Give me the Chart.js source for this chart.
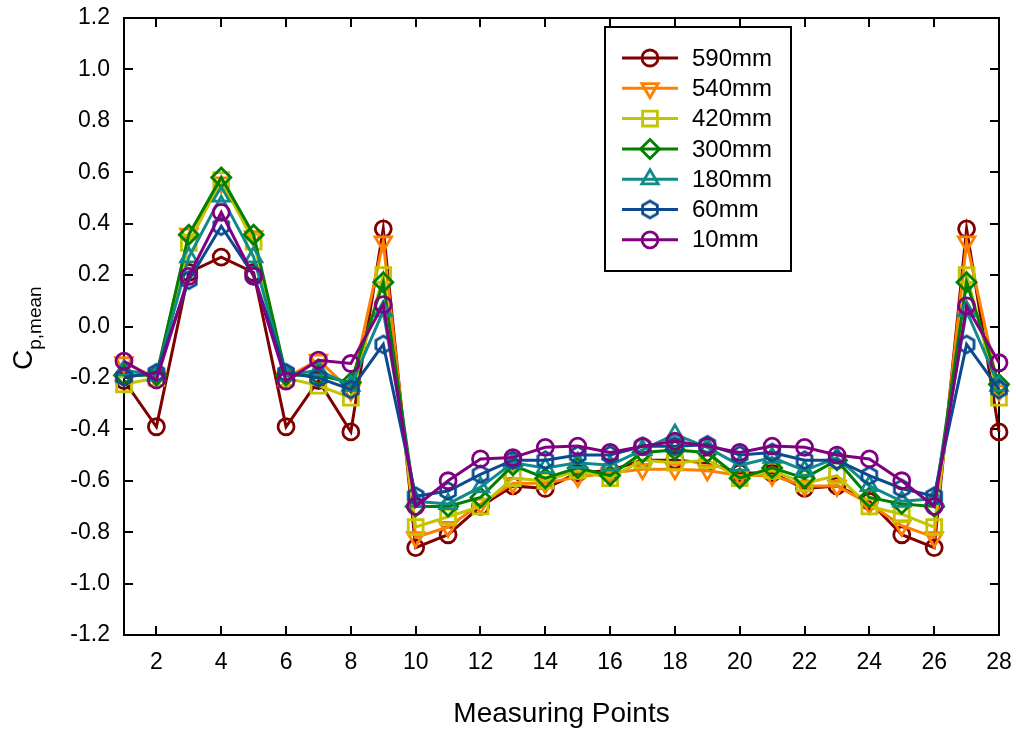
<!DOCTYPE html>
<html>
<head>
<meta charset="utf-8">
<title>Cp,mean</title>
<script src="https://cdn.jsdelivr.net/npm/chart.js@4.4.1/dist/chart.umd.min.js"></script>
<style>
  html, body { margin: 0; padding: 0; background: #fff; }
  #wrap { width: 1016px; height: 733px; position: relative; }
</style>
</head>
<body>
<div id="wrap"><canvas id="cp_chart"></canvas></div>
<script>
// measuring points along the model
const measuringPoints = [1, 2, 3, 4, 5, 6, 7, 8, 9, 10, 11, 12, 13, 14, 15, 16, 17, 18, 19, 20, 21, 22, 23, 24, 25, 26, 27, 28];

const seriesNames = ['590mm', '540mm', '420mm', '300mm', '180mm', '60mm', '10mm'];

const cp590 = [-0.21, -0.39, 0.21, 0.27, 0.21, -0.39, -0.21, -0.41, 0.38, -0.86, -0.81, -0.70, -0.62, -0.63, -0.57, -0.56, -0.52, -0.52, -0.53, -0.57, -0.57, -0.63, -0.62, -0.68, -0.81, -0.86, 0.38, -0.41];
const cp540 = [-0.14, -0.20, 0.36, 0.56, 0.35, -0.20, -0.13, -0.25, 0.33, -0.82, -0.78, -0.69, -0.61, -0.61, -0.585, -0.57, -0.555, -0.555, -0.56, -0.58, -0.58, -0.62, -0.62, -0.69, -0.775, -0.82, 0.33, -0.25];
const cp420 = [-0.225, -0.20, 0.325, 0.57, 0.33, -0.20, -0.23, -0.277, 0.20, -0.78, -0.74, -0.70, -0.59, -0.60, -0.56, -0.59, -0.52, -0.53, -0.52, -0.59, -0.56, -0.61, -0.58, -0.70, -0.73, -0.78, 0.20, -0.277];
const cp300 = [-0.19, -0.19, 0.357, 0.58, 0.357, -0.19, -0.19, -0.218, 0.172, -0.70, -0.70, -0.665, -0.54, -0.59, -0.55, -0.58, -0.49, -0.48, -0.49, -0.59, -0.55, -0.59, -0.52, -0.665, -0.69, -0.70, 0.172, -0.225];
const cp180 = [-0.17, -0.19, 0.27, 0.506, 0.27, -0.19, -0.17, -0.23, 0.06, -0.68, -0.69, -0.625, -0.53, -0.55, -0.53, -0.54, -0.48, -0.42, -0.47, -0.54, -0.51, -0.56, -0.51, -0.62, -0.68, -0.67, 0.06, -0.23];
const cp60 = [-0.197, -0.18, 0.18, 0.39, 0.20, -0.18, -0.20, -0.245, -0.07, -0.66, -0.64, -0.575, -0.52, -0.52, -0.50, -0.50, -0.466, -0.466, -0.46, -0.50, -0.49, -0.52, -0.52, -0.58, -0.63, -0.66, -0.07, -0.245];
const cp10 = [-0.135, -0.208, 0.195, 0.444, 0.195, -0.212, -0.131, -0.144, 0.085, -0.70, -0.60, -0.515, -0.51, -0.47, -0.465, -0.49, -0.466, -0.446, -0.466, -0.49, -0.465, -0.47, -0.50, -0.515, -0.60, -0.70, 0.08, -0.141];

const yTickValues = [-1.2, -1.0, -0.8, -0.6, -0.4, -0.2, 0.0, 0.2, 0.4, 0.6, 0.8, 1.0, 1.2];
const xTickValues = [2, 4, 6, 8, 10, 12, 14, 16, 18, 20, 22, 24, 26, 28];

const FONT = '"Liberation Sans", Arial, Helvetica, sans-serif';

// hexagon marker, vertex up, drawn on its own little canvas
function hexagonMarker(color, r, lw) {
  const size = Math.ceil(2 * r + lw + 2);
  const c = document.createElement('canvas');
  c.width = size; c.height = size;
  const g = c.getContext('2d');
  g.strokeStyle = color;
  g.lineWidth = lw;
  g.beginPath();
  for (let k = 0; k < 6; k++) {
    const a = -Math.PI / 2 + k * Math.PI / 3;
    const px = size / 2 + r * Math.cos(a);
    const py = size / 2 + r * Math.sin(a);
    if (k === 0) g.moveTo(px, py); else g.lineTo(px, py);
  }
  g.closePath();
  g.stroke();
  return c;
}

const MARK_W = 2.8;
const styles = [
  { color: '#800000', pointStyle: 'circle', rotation: 0, radius: 8 },
  { color: '#ff7f00', pointStyle: 'triangle', rotation: 180, radius: 9.5 },
  { color: '#c4c400', pointStyle: 'rect', rotation: 0, radius: 10.5 },
  { color: '#008000', pointStyle: 'rectRot', rotation: 0, radius: 9.5 },
  { color: '#118a8a', pointStyle: 'triangle', rotation: 0, radius: 9.5 },
  { color: '#0b4a8e', pointStyle: null, rotation: 0, radius: 8.5 },
  { color: '#800080', pointStyle: 'circle', rotation: 0, radius: 8 }
];
styles[5].pointStyle = hexagonMarker(styles[5].color, styles[5].radius, MARK_W);

const allSeries = [cp590, cp540, cp420, cp300, cp180, cp60, cp10];

const datasets = allSeries.map((vals, i) => ({
  label: seriesNames[i],
  data: measuringPoints.map((p, k) => ({ x: p, y: vals[k] })),
  borderColor: styles[i].color,
  backgroundColor: 'transparent',
  borderWidth: 3,
  tension: 0,
  pointStyle: styles[i].pointStyle,
  rotation: styles[i].rotation,
  pointRadius: styles[i].radius,
  pointHoverRadius: styles[i].radius,
  pointBorderColor: styles[i].color,
  pointBackgroundColor: 'transparent',
  pointBorderWidth: MARK_W,
  clip: false,
  order: allSeries.length - 1 - i   // 10mm ends up on top
}));

// box round the plot with inward ticks on all four sides
const frameTicks = {
  id: 'frameTicks',
  beforeDatasetsDraw(chart) {
    const { ctx, chartArea: a, scales } = chart;
    const len = 9;
    ctx.save();
    ctx.strokeStyle = '#000';
    ctx.lineWidth = 2;
    ctx.beginPath();
    yTickValues.forEach(v => {
      const y = Math.round(scales.y.getPixelForValue(v));
      ctx.moveTo(a.left, y); ctx.lineTo(a.left + len, y);
      ctx.moveTo(a.right, y); ctx.lineTo(a.right - len, y);
    });
    xTickValues.forEach(v => {
      const x = Math.round(scales.x.getPixelForValue(v));
      ctx.moveTo(x, a.bottom); ctx.lineTo(x, a.bottom - len);
      ctx.moveTo(x, a.top); ctx.lineTo(x, a.top + len);
    });
    ctx.stroke();
    ctx.strokeRect(a.left, a.top, a.right - a.left, a.bottom - a.top);
    ctx.restore();
  }
};

function drawMarker(ctx, st, x, y) {
  ctx.save();
  ctx.strokeStyle = st.color;
  ctx.lineWidth = MARK_W;
  const r = st.radius;
  if (st.pointStyle instanceof HTMLCanvasElement) {
    ctx.drawImage(st.pointStyle, x - st.pointStyle.width / 2, y - st.pointStyle.height / 2);
    ctx.restore();
    return;
  }
  ctx.beginPath();
  if (st.pointStyle === 'circle') {
    ctx.arc(x, y, r, 0, Math.PI * 2);
  } else if (st.pointStyle === 'triangle') {
    let rad = st.rotation * Math.PI / 180;
    for (let k = 0; k < 3; k++) {
      const px = x + Math.sin(rad) * r, py = y - Math.cos(rad) * r;
      if (k === 0) ctx.moveTo(px, py); else ctx.lineTo(px, py);
      rad += Math.PI * 2 / 3;
    }
    ctx.closePath();
  } else if (st.pointStyle === 'rect') {
    const s = Math.SQRT1_2 * r;
    ctx.rect(x - s, y - s, 2 * s, 2 * s);
  } else if (st.pointStyle === 'rectRot') {
    ctx.moveTo(x - r, y); ctx.lineTo(x, y + r); ctx.lineTo(x + r, y); ctx.lineTo(x, y - r);
    ctx.closePath();
  }
  ctx.stroke();
  ctx.restore();
}

// legend box, axis titles
const annotations = {
  id: 'annotations',
  afterDraw(chart) {
    const ctx = chart.ctx;
    ctx.save();
    // legend
    const bx = 605, by = 27, bw = 186, bh = 244;
    ctx.fillStyle = '#fff';
    ctx.fillRect(bx, by, bw, bh);
    ctx.strokeStyle = '#000';
    ctx.lineWidth = 2;
    ctx.strokeRect(bx, by, bw, bh);
    seriesNames.forEach((name, i) => {
      const y = 58 + i * 30.3;
      ctx.strokeStyle = styles[i].color;
      ctx.lineWidth = 3;
      ctx.beginPath();
      ctx.moveTo(622, y); ctx.lineTo(678, y);
      ctx.stroke();
      drawMarker(ctx, styles[i], 650, y);
      ctx.fillStyle = '#000';
      ctx.font = '24px ' + FONT;
      ctx.textAlign = 'left';
      ctx.textBaseline = 'middle';
      ctx.fillText(name, 692, y + 1);
    });
    // x title
    const a = chart.chartArea;
    ctx.fillStyle = '#000';
    ctx.font = '28px ' + FONT;
    ctx.textAlign = 'center';
    ctx.textBaseline = 'alphabetic';
    ctx.fillText('Measuring Points', (a.left + a.right) / 2, 722);
    // y title: C with subscript p,mean
    ctx.translate(32, 370);
    ctx.rotate(-Math.PI / 2);
    ctx.textAlign = 'left';
    ctx.font = '28px ' + FONT;
    ctx.fillText('C', 0, 0);
    const cw = ctx.measureText('C').width;
    ctx.font = '19px ' + FONT;
    ctx.fillText('p,mean', cw, 9);
    ctx.restore();
  }
};

const ctx = document.getElementById('cp_chart').getContext('2d');
const cpChart = new Chart(ctx, {
  type: 'line',
  data: { datasets: datasets },
  options: {
    responsive: true,
    maintainAspectRatio: false,
    animation: false,
    layout: { padding: { left: 0, top: 18, right: 17, bottom: 0 } },
    plugins: {
      legend: { display: false },
      tooltip: { enabled: false }
    },
    scales: {
      x: {
        type: 'linear',
        min: 1,
        max: 28,
        grid: { display: false, drawTicks: false },
        border: { display: false },
        ticks: {
          stepSize: 1,
          autoSkip: false,
          maxRotation: 0,
          padding: 14,
          color: '#000',
          font: { family: FONT, size: 23 }
        },
        afterBuildTicks: axis => {
          axis.ticks = axis.ticks.filter(t => xTickValues.includes(t.value));
        },
        afterFit: axis => {
          axis.height = 98;
          axis.paddingLeft = 0;
          axis.paddingRight = 0;
        }
      },
      y: {
        min: -1.2,
        max: 1.2,
        grid: { display: false, drawTicks: false },
        border: { display: false },
        ticks: {
          stepSize: 0.2,
          padding: 14,
          color: '#000',
          font: { family: FONT, size: 23 },
          callback: v => (Math.abs(v) < 1e-9 ? 0 : v).toFixed(1)
        },
        afterFit: axis => {
          axis.width = 124;
          axis.paddingTop = 0;
          axis.paddingBottom = 0;
        }
      }
    }
  },
  plugins: [frameTicks, annotations]
});
</script>
</body>
</html>
